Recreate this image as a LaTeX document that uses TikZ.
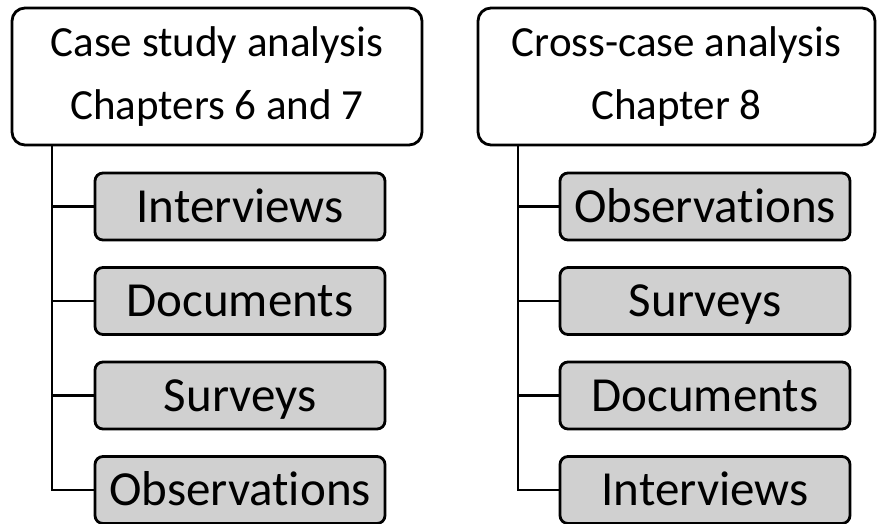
\documentclass[tikz,border=0pt]{standalone}
\usepackage{fontspec}
\setmainfont{Carlito}[RawFeature=-liga]
\definecolor{itemgray}{RGB}{208,208,208}
\begin{document}
\begin{tikzpicture}[x=1pt,y=-1pt,
  header/.style={draw, line width=2.8pt, rounded corners=13pt, fill=white,
    minimum height=137pt, inner sep=0pt, align=center,
    font=\fontsize{43}{63}\selectfont},
  item/.style={draw, line width=2.8pt, rounded corners=8pt, fill=itemgray,
    minimum width=290pt, minimum height=67pt, inner sep=0pt,
    text height=31pt, text depth=0pt, font=\fontsize{49}{55}\selectfont},
  link/.style={line width=2.8pt}]
\useasboundingbox (0,0) rectangle (877,523);

% headers
\node[header, minimum width=410pt] (hL) at (217,76.5)
  {Case study analysis\\Chapters 6 and 7};
\node[header, minimum width=397pt] (hR) at (676.5,76.5)
  {Cross-case analysis\\Chapter 8};

% left column
\node[item] (l1) at (240,206.5) {Interviews};
\node[item] (l2) at (240,301)   {Documents};
\node[item] (l3) at (240,395.5) {Surveys};
\node[item] (l4) at (240,490)   {Observations};

% right column
\node[item] (r1) at (705,206.5) {Observations};
\node[item] (r2) at (705,301)   {Surveys};
\node[item] (r3) at (705,395.5) {Documents};
\node[item] (r4) at (705,490)   {Interviews};

% spines
\coordinate (sL) at (52,0);
\coordinate (sR) at (518,0);

\draw[link] (sL |- hL.south) |- (l4.west);
\draw[link] (sL |- l1.west) -- (l1.west);
\draw[link] (sL |- l2.west) -- (l2.west);
\draw[link] (sL |- l3.west) -- (l3.west);

\draw[link] (sR |- hR.south) |- (r4.west);
\draw[link] (sR |- r1.west) -- (r1.west);
\draw[link] (sR |- r2.west) -- (r2.west);
\draw[link] (sR |- r3.west) -- (r3.west);
\end{tikzpicture}
\end{document}
